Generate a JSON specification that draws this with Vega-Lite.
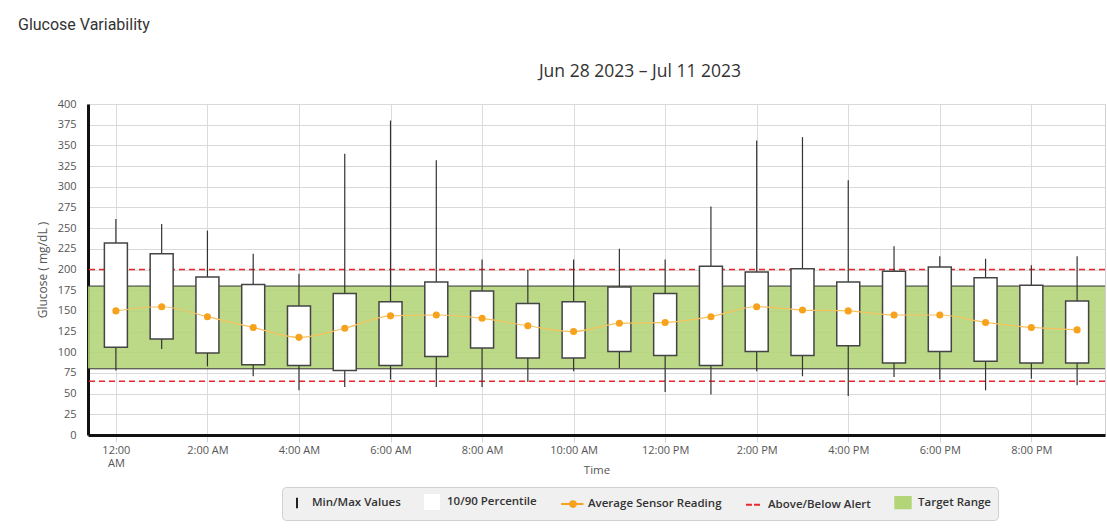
{
  "$schema": "https://vega.github.io/schema/vega-lite/v6.json",
  "width": 1017,
  "height": 331,
  "autosize": {"type": "none"},
  "padding": {"left": 88, "top": 104, "right": 2, "bottom": 96},
  "background": "white",
  "config": {"font": "Open Sans", "view": {"stroke": "#cfcfcf"}},
  "title": {"text": "Glucose Variability", "anchor": "start", "frame": "group", "font": "Roboto", "fontSize": 16, "fontWeight": "normal", "color": "#333", "dx": -70, "offset": 30},
  "datasets": {
    "hourly": [
      {"hour": 0, "min": 78, "p10": 106, "avg": 150, "p90": 232, "max": 261},
      {"hour": 1, "min": 104, "p10": 116, "avg": 155, "p90": 219, "max": 255},
      {"hour": 2, "min": 83, "p10": 99, "avg": 143, "p90": 191, "max": 247},
      {"hour": 3, "min": 71, "p10": 85, "avg": 130, "p90": 182, "max": 219},
      {"hour": 4, "min": 54, "p10": 84, "avg": 118, "p90": 156, "max": 195},
      {"hour": 5, "min": 58, "p10": 78, "avg": 129, "p90": 171, "max": 340},
      {"hour": 6, "min": 67, "p10": 84, "avg": 144, "p90": 161, "max": 380},
      {"hour": 7, "min": 58, "p10": 95, "avg": 145, "p90": 185, "max": 332},
      {"hour": 8, "min": 58, "p10": 105, "avg": 141, "p90": 174, "max": 212},
      {"hour": 9, "min": 64, "p10": 93, "avg": 132, "p90": 159, "max": 200},
      {"hour": 10, "min": 77, "p10": 93, "avg": 125, "p90": 161, "max": 212},
      {"hour": 11, "min": 81, "p10": 101, "avg": 135, "p90": 179, "max": 225},
      {"hour": 12, "min": 52, "p10": 96, "avg": 136, "p90": 171, "max": 212},
      {"hour": 13, "min": 49, "p10": 84, "avg": 143, "p90": 204, "max": 276},
      {"hour": 14, "min": 77, "p10": 101, "avg": 155, "p90": 197, "max": 356},
      {"hour": 15, "min": 71, "p10": 96, "avg": 151, "p90": 201, "max": 360},
      {"hour": 16, "min": 47, "p10": 108, "avg": 150, "p90": 185, "max": 308},
      {"hour": 17, "min": 70, "p10": 87, "avg": 145, "p90": 198, "max": 228},
      {"hour": 18, "min": 67, "p10": 101, "avg": 145, "p90": 203, "max": 216},
      {"hour": 19, "min": 54, "p10": 89, "avg": 136, "p90": 190, "max": 213},
      {"hour": 20, "min": 68, "p10": 87, "avg": 130, "p90": 181, "max": 205},
      {"hour": 21, "min": 60, "p10": 87, "avg": 127, "p90": 162, "max": 216}
    ],
    "lines": [
      {"kind": "target", "value": 180},
      {"kind": "target", "value": 80},
      {"kind": "alert", "value": 200},
      {"kind": "alert", "value": 65}
    ],
    "target": [{"low": 80, "high": 180}],
    "legend": [
      {"item": "Min/Max Values"},
      {"item": "10/90 Percentile"},
      {"item": "Average Sensor Reading"},
      {"item": "Above/Below Alert"},
      {"item": "Target Range"}
    ],
    "period": [{"label": "Jun 28 2023 – Jul 11 2023"}]
  },
  "layer": [
    {
      "data": {"name": "target"},
      "mark": {"type": "rect", "fill": "#b3d477", "opacity": 0.88},
      "encoding": {
        "y": {
          "field": "low", "type": "quantitative",
          "scale": {"domain": [0, 400], "nice": false, "zero": true},
          "axis": {
            "values": [0, 25, 50, 75, 100, 125, 150, 175, 200, 225, 250, 275, 300, 325, 350, 375, 400],
            "tickCount": 30,
            "labelOverlap": false,
            "title": "Glucose ( mg/dL )",
            "grid": true, "gridColor": "#d9d9d9",
            "domainColor": "#111", "domainWidth": 3,
            "ticks": false, "labelPadding": 12,
            "labelColor": "#555", "labelFontSize": 11,
            "titleFontSize": 12, "titleFontWeight": "normal", "titleColor": "#555", "titlePadding": 8
          }
        },
        "y2": {"field": "high"}
      }
    },
    {
      "data": {"name": "lines"},
      "transform": [{"filter": "datum.kind == 'target'"}],
      "mark": {"type": "rule", "color": "#333", "strokeWidth": 1},
      "encoding": {"y": {"field": "value", "type": "quantitative"}}
    },
    {
      "data": {"name": "lines"},
      "transform": [{"filter": "datum.kind == 'alert'"}],
      "mark": {"type": "rule", "color": "#e8262b", "strokeWidth": 1.5, "strokeDash": [6, 4]},
      "encoding": {"y": {"field": "value", "type": "quantitative"}}
    },
    {
      "data": {"name": "hourly"},
      "mark": {"type": "rule", "color": "#333", "strokeWidth": 1.2},
      "encoding": {
        "x": {
          "field": "hour", "type": "quantitative",
          "scale": {"domain": [-0.5, 21.5], "nice": false, "zero": false},
          "axis": {
            "values": [0, 2, 4, 6, 8, 10, 12, 14, 16, 18, 20],
            "tickCount": 30,
            "labelExpr": "datum.value == 0 ? ['12:00', 'AM'] : datum.value == 12 ? '12:00 PM' : (datum.value % 12) + ':00 ' + (datum.value < 12 ? 'AM' : 'PM')",
            "labelOverlap": false,
            "title": "Time",
            "grid": true, "gridColor": "#d8dce0",
            "domainColor": "#111", "domainWidth": 3,
            "tickColor": "#c9d6e6", "tickSize": 7,
            "labelColor": "#555", "labelFontSize": 11, "labelPadding": 2, "labelLineHeight": 13,
            "titleFontSize": 11.5, "titleFontWeight": "normal", "titleColor": "#555",
            "titleY": 38, "titleBaseline": "alphabetic"
          }
        },
        "y": {"field": "min", "type": "quantitative"},
        "y2": {"field": "max"}
      }
    },
    {
      "data": {"name": "hourly"},
      "mark": {"type": "bar", "width": 23, "fill": "white", "stroke": "#444", "strokeWidth": 1.5},
      "encoding": {
        "x": {"field": "hour", "type": "quantitative"},
        "y": {"field": "p10", "type": "quantitative"},
        "y2": {"field": "p90"}
      }
    },
    {
      "data": {"name": "hourly"},
      "mark": {"type": "line", "color": "#f7c25c", "strokeWidth": 1.2, "interpolate": "monotone", "clip": true},
      "encoding": {
        "x": {"field": "hour", "type": "quantitative"},
        "y": {"field": "avg", "type": "quantitative"}
      }
    },
    {
      "data": {"name": "hourly"},
      "mark": {"type": "point", "filled": true, "color": "#f6a21d", "size": 50, "opacity": 1},
      "encoding": {
        "x": {"field": "hour", "type": "quantitative"},
        "y": {"field": "avg", "type": "quantitative"}
      }
    },
    {
      "data": {"name": "legend"},
      "mark": {"type": "point", "filled": true, "opacity": 1, "clip": true, "strokeWidth": 2},
      "encoding": {
        "x": {"datum": -5},
        "y": {"datum": 200},
        "fill": {
          "field": "item", "type": "nominal",
          "scale": {"domain": ["Min/Max Values", "10/90 Percentile", "Average Sensor Reading", "Above/Below Alert", "Target Range"], "range": ["#222", "#ffffff", "#f6a21d", "transparent", "#b3d477"]},
          "legend": {"title": null, "orient": "none", "legendX": 194, "legendY": 383, "direction": "horizontal", "fillColor": "#f0f0f0", "strokeColor": "#cfcfcf", "cornerRadius": 4, "padding": 7, "labelFont": "Open Sans", "labelFontSize": 11.5, "labelFontWeight": 600, "labelColor": "#333", "symbolSize": 196, "symbolStrokeWidth": 2, "columnPadding": 20, "labelOffset": 7, "labelLimit": 300}
        },
        "stroke": {
          "field": "item", "type": "nominal",
          "scale": {"domain": ["Min/Max Values", "10/90 Percentile", "Average Sensor Reading", "Above/Below Alert", "Target Range"], "range": ["#222", "#ffffff", "#f6a21d", "#e8262b", "#b3d477"]},
          "legend": {"title": null, "orient": "none", "legendX": 194, "legendY": 383, "direction": "horizontal", "fillColor": "#f0f0f0", "strokeColor": "#cfcfcf", "cornerRadius": 4, "padding": 7, "labelFont": "Open Sans", "labelFontSize": 11.5, "labelFontWeight": 600, "labelColor": "#333", "symbolSize": 196, "symbolStrokeWidth": 2, "columnPadding": 20, "labelOffset": 7, "labelLimit": 300}
        },
        "shape": {
          "field": "item", "type": "nominal",
          "scale": {"domain": ["Min/Max Values", "10/90 Percentile", "Average Sensor Reading", "Above/Below Alert", "Target Range"], "range": ["M0,-0.75V0.75", "square", "M-1.7,0H-0.4M0.4,0H1.5M0.4,0A0.4,0.4 0 1,1 -0.4,0A0.4,0.4 0 1,1 0.4,0Z", "M-1,0H-0.15M0.15,0H1", "M-1.1,-0.8H1.1V0.8H-1.1Z"]},
          "legend": {"title": null, "orient": "none", "legendX": 194, "legendY": 383, "direction": "horizontal", "fillColor": "#f0f0f0", "strokeColor": "#cfcfcf", "cornerRadius": 4, "padding": 7, "labelFont": "Open Sans", "labelFontSize": 11.5, "labelFontWeight": 600, "labelColor": "#333", "symbolSize": 196, "symbolStrokeWidth": 2, "columnPadding": 20, "labelOffset": 7, "labelLimit": 300}
        }
      }
    },
    {
      "data": {"name": "period"},
      "mark": {"type": "text", "font": "Open Sans", "fontSize": 17.5, "color": "#333", "baseline": "middle", "align": "center", "clip": false},
      "encoding": {
        "x": {"datum": 11.45},
        "y": {"datum": 439},
        "text": {"field": "label"}
      }
    }
  ]
}
